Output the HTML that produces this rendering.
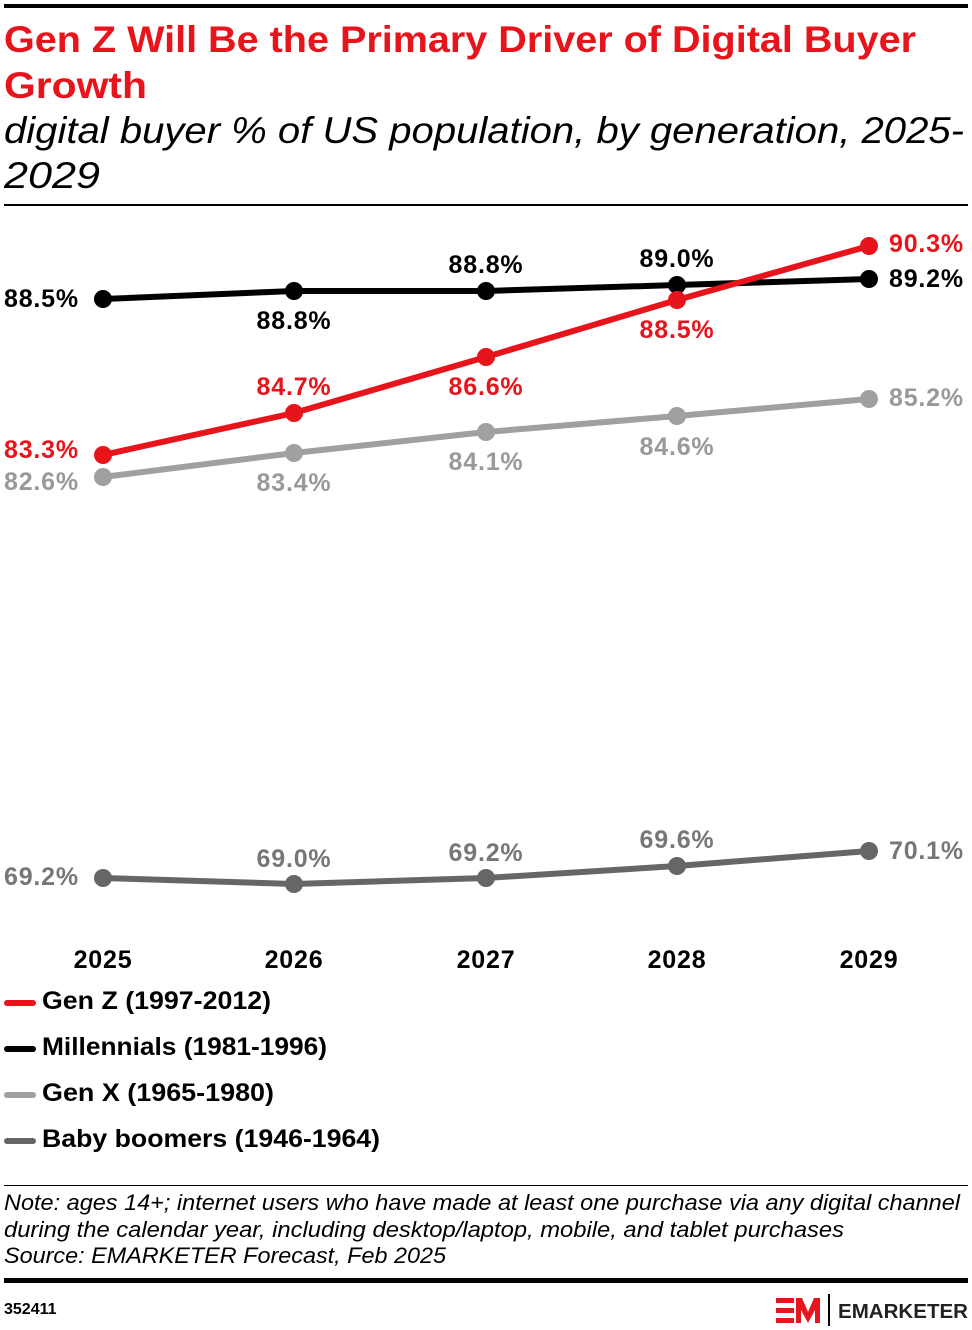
<!DOCTYPE html>
<html><head><meta charset="utf-8"><style>
body{margin:0;background:#fff;width:972px;height:1330px;overflow:hidden;font-family:"Liberation Sans",sans-serif}
svg{position:absolute;left:0;top:0}
</style></head><body>
<svg width="972" height="1330" viewBox="0 0 972 1330" font-family="Liberation Sans, sans-serif">
<rect x="4" y="4" width="964" height="4" fill="#000"/>
<text x="4" y="52" font-size="37" font-weight="bold" fill="#e8141c" textLength="912" lengthAdjust="spacingAndGlyphs">Gen Z Will Be the Primary Driver of Digital Buyer</text>
<text x="4" y="98" font-size="37" font-weight="bold" fill="#e8141c" textLength="143" lengthAdjust="spacingAndGlyphs">Growth</text>
<text x="4" y="143" font-size="37" font-style="italic" fill="#000" textLength="960" lengthAdjust="spacingAndGlyphs">digital buyer % of US population, by generation, 2025-</text>
<text x="4" y="188" font-size="37" font-style="italic" fill="#000" textLength="96" lengthAdjust="spacingAndGlyphs">2029</text>
<rect x="4" y="204" width="964" height="2" fill="#000"/>
<g stroke-width="6" fill="none" stroke-linejoin="round">
<polyline points="103,878 294,884 486,878 677,866 869,851" stroke="#666"/>
<polyline points="103,477 294,453 486,432 677,416 869,399" stroke="#a0a0a0"/>
<polyline points="103,299 294,291 486,291 677,285 869,279" stroke="#000"/>
<polyline points="103,455 294,413 486,357 677,300 869,246" stroke="#e8141c"/>
</g>
<g fill="#666"><circle cx="103" cy="878" r="9"/><circle cx="294" cy="884" r="9"/><circle cx="486" cy="878" r="9"/><circle cx="677" cy="866" r="9"/><circle cx="869" cy="851" r="9"/></g>
<g fill="#a0a0a0"><circle cx="103" cy="477" r="9"/><circle cx="294" cy="453" r="9"/><circle cx="486" cy="432" r="9"/><circle cx="677" cy="416" r="9"/><circle cx="869" cy="399" r="9"/></g>
<g fill="#000"><circle cx="103" cy="299" r="9"/><circle cx="294" cy="291" r="9"/><circle cx="486" cy="291" r="9"/><circle cx="677" cy="285" r="9"/><circle cx="869" cy="279" r="9"/></g>
<g fill="#e8141c"><circle cx="103" cy="455" r="9"/><circle cx="294" cy="413" r="9"/><circle cx="486" cy="357" r="9"/><circle cx="677" cy="300" r="9"/><circle cx="869" cy="246" r="9"/></g>
<g font-size="25" font-weight="bold" letter-spacing="0.8">
<g fill="#000"><text x="4" y="307">88.5%</text><text x="294" y="329" text-anchor="middle">88.8%</text><text x="486" y="273" text-anchor="middle">88.8%</text><text x="677" y="267" text-anchor="middle">89.0%</text><text x="889" y="287">89.2%</text></g>
<g fill="#e8141c"><text x="4" y="458">83.3%</text><text x="294" y="395" text-anchor="middle">84.7%</text><text x="486" y="395" text-anchor="middle">86.6%</text><text x="677" y="338" text-anchor="middle">88.5%</text><text x="889" y="252">90.3%</text></g>
<g fill="#999"><text x="4" y="490">82.6%</text><text x="294" y="491" text-anchor="middle">83.4%</text><text x="486" y="470" text-anchor="middle">84.1%</text><text x="677" y="455" text-anchor="middle">84.6%</text><text x="889" y="406">85.2%</text></g>
<g fill="#777"><text x="4" y="885">69.2%</text><text x="294" y="867" text-anchor="middle">69.0%</text><text x="486" y="861" text-anchor="middle">69.2%</text><text x="677" y="848" text-anchor="middle">69.6%</text><text x="889" y="859">70.1%</text></g>
<g fill="#000"><text x="103" y="968" text-anchor="middle">2025</text><text x="294" y="968" text-anchor="middle">2026</text><text x="486" y="968" text-anchor="middle">2027</text><text x="677" y="968" text-anchor="middle">2028</text><text x="869" y="968" text-anchor="middle">2029</text></g>
</g>
<g font-size="25" font-weight="bold" fill="#000"><text x="42" y="1009" textLength="229" lengthAdjust="spacingAndGlyphs">Gen Z (1997-2012)</text><text x="42" y="1055" textLength="285" lengthAdjust="spacingAndGlyphs">Millennials (1981-1996)</text><text x="42" y="1101" textLength="232" lengthAdjust="spacingAndGlyphs">Gen X (1965-1980)</text><text x="42" y="1147" textLength="338" lengthAdjust="spacingAndGlyphs">Baby boomers (1946-1964)</text></g>
<rect x="4" y="1000" width="32" height="6" rx="3" fill="#e8141c"/>
<rect x="4" y="1046" width="32" height="6" rx="3" fill="#000"/>
<rect x="4" y="1092" width="32" height="6" rx="3" fill="#a0a0a0"/>
<rect x="4" y="1138" width="32" height="6" rx="3" fill="#666"/>
<rect x="4" y="1185" width="964" height="1" fill="#000"/>
<g font-size="22" font-style="italic" fill="#000"><text x="4" y="1210" textLength="956" lengthAdjust="spacingAndGlyphs">Note: ages 14+; internet users who have made at least one purchase via any digital channel</text><text x="4" y="1237" textLength="840" lengthAdjust="spacingAndGlyphs">during the calendar year, including desktop/laptop, mobile, and tablet purchases</text><text x="4" y="1263" textLength="442" lengthAdjust="spacingAndGlyphs">Source: EMARKETER Forecast, Feb 2025</text></g>
<rect x="4" y="1278" width="964" height="5" fill="#000"/>
<text x="4" y="1314" font-size="16" font-weight="bold" fill="#000">352411</text>
<g fill="#e8141c"><rect x="776" y="1298" width="18" height="5"/><rect x="776" y="1308" width="18" height="5"/><rect x="776" y="1318" width="18" height="5"/>
<polygon points="796,1298 802,1298 808,1312 814,1298 820,1298 820,1323 815,1323 815,1310 808,1323 801,1310 801,1323 796,1323"/></g>
<rect x="828" y="1294" width="2" height="32" fill="#000"/>
<text x="838" y="1318" font-size="20" font-weight="bold" fill="#222" textLength="130" lengthAdjust="spacingAndGlyphs">EMARKETER</text>
</svg>
</body></html>
